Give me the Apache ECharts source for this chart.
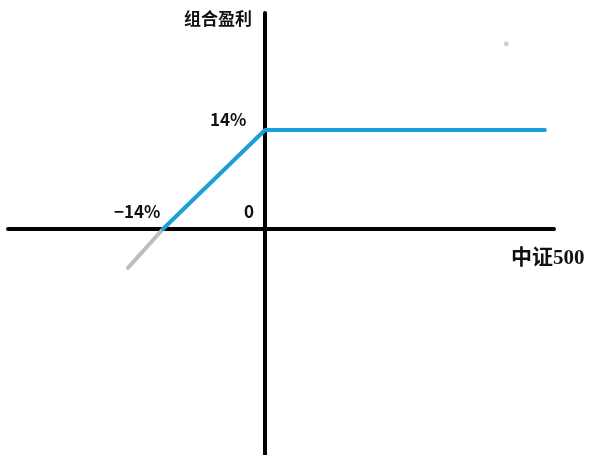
<!DOCTYPE html>
<html>
<head>
<meta charset="utf-8">
<style>
  html, body { margin: 0; padding: 0; background: #fff; }
  #chart { width: 593px; height: 455px; }
</style>
<script src="https://cdn.jsdelivr.net/npm/echarts@6/dist/echarts.min.js"></script>
</head>
<body>
<div id="chart"></div>
<script>
// 组合盈利 vs 中证500 (收益结构示意)
var profitLine = [[-14, 0], [0, 14], [38.4, 14]];   // 蓝色：组合盈利
var lossLine = [[-14, 0], [-18.8, -5.5]];           // 灰色：下跌延伸
var strayDot = [[33.1, 26.2]];
var tickLabels = ["14%", "-14%", "0"];
var axisTitles = ["组合盈利", "中证500"];

var myChart = echarts.init(document.getElementById("chart"));
var option = {
  animation: false,
  backgroundColor: "#fff",
  grid: { left: 8, right: 39, top: 13, bottom: 0 },
  xAxis: {
    type: "value",
    min: -35.27,
    max: 39.66,
    splitLine: { show: false },
    axisTick: { show: false },
    axisLabel: { show: false },
    axisLine: { onZero: true, lineStyle: { color: "#000", width: 4 } }
  },
  yAxis: {
    type: "value",
    min: -31.96,
    max: 30.55,
    splitLine: { show: false },
    axisTick: { show: false },
    axisLabel: { show: false },
    axisLine: { onZero: true, lineStyle: { color: "#000", width: 4 } }
  },
  graphic: [
    { type: "text", left: 184, top: 10, style: { text: axisTitles[0], font: "bold 17px 'Noto Sans CJK SC'", fill: "#111" } },
    { type: "text", left: 511, top: 248, style: { text: axisTitles[1], font: "bold 21px 'Liberation Serif', 'Noto Sans CJK SC'", fill: "#111" } },
    { type: "text", left: 210, top: 111, style: { text: tickLabels[0], font: "bold 17px 'Noto Sans CJK SC'", fill: "#111" } },
    { type: "text", left: 114, top: 203, style: { text: tickLabels[1].replace("-", "\u2212"), font: "bold 17px 'Noto Sans CJK SC'", fill: "#111" } },
    { type: "text", left: 244, top: 203, style: { text: tickLabels[2], font: "bold 17px 'Noto Sans CJK SC'", fill: "#111" } }
  ],
  series: [
    {
      type: "line",
      data: lossLine,
      symbol: "none",
      z: 3,
      lineStyle: { color: "#bdbdbd", width: 4, cap: "round" }
    },
    {
      type: "line",
      data: profitLine,
      symbol: "none",
      z: 4,
      lineStyle: { color: "#1a9fd8", width: 4, cap: "round", join: "round" }
    },
    {
      type: "scatter",
      data: strayDot,
      symbolSize: 5,
      itemStyle: { color: "#c4c4c4" }
    }
  ]
};
myChart.setOption(option);
</script>
</body>
</html>
